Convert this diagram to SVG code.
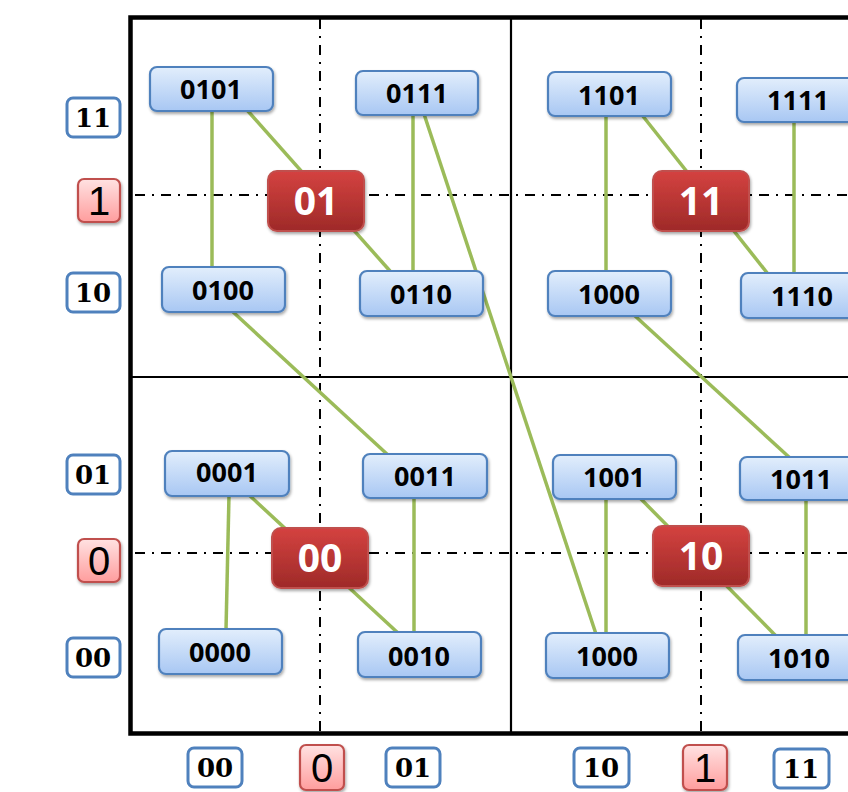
<svg xmlns="http://www.w3.org/2000/svg" width="848" height="792" viewBox="0 0 848 792">
<defs>
<linearGradient id="gBlue" x1="0" y1="0" x2="0" y2="1">
<stop offset="0" stop-color="#e2eefc"/>
<stop offset="1" stop-color="#a8c7f3"/>
</linearGradient>
<linearGradient id="gRed" x1="0" y1="0" x2="0" y2="1">
<stop offset="0" stop-color="#d44240"/>
<stop offset="1" stop-color="#9e2a28"/>
</linearGradient>
<linearGradient id="gPink" x1="0" y1="0" x2="0" y2="1">
<stop offset="0" stop-color="#ffe2e2"/>
<stop offset="1" stop-color="#ff9d9d"/>
</linearGradient>
<filter id="sh" x="-20%" y="-20%" width="150%" height="160%">
<feDropShadow dx="1" dy="2" stdDeviation="1.5" flood-color="#000" flood-opacity="0.35"/>
</filter>
<style>
.frame{stroke:#000;stroke-width:4.5;fill:none}
.grid{stroke:#000;stroke-width:2.2;fill:none}
.dd{stroke:#000;stroke-width:2;stroke-dasharray:10 7 2 7;fill:none}
.edge{stroke:#9bbb59;stroke-width:3.5;fill:none}
.bn rect{fill:url(#gBlue);stroke:#4f81bd;stroke-width:2.2;filter:url(#sh)}
.bn text{font-family:"Open Sans","Liberation Sans",sans-serif;font-weight:bold;font-size:27px;fill:#000;text-anchor:middle}
.rn rect{fill:url(#gRed);stroke:#c0504d;stroke-width:2;filter:url(#sh)}
.rn text{font-family:"Open Sans","Liberation Sans",sans-serif;font-weight:bold;font-size:39px;fill:#fff;text-anchor:middle}
.ax rect{fill:#fff;stroke:#4f81bd;stroke-width:3}
.ax text{font-family:"DejaVu Serif","Liberation Serif",serif;font-weight:bold;font-size:26px;fill:#000;text-anchor:middle}
.ar rect{fill:url(#gPink);stroke:#c0504d;stroke-width:2.2;filter:url(#sh)}
.ar text{font-family:"Liberation Sans","Open Sans",sans-serif;font-size:40px;fill:#000;text-anchor:middle}
</style>
</defs>
<rect width="848" height="792" fill="#fff"/>
<g id="grid">
<line class="grid" x1="511" y1="17" x2="511" y2="735"/>
<line class="grid" x1="130" y1="377" x2="848" y2="377"/>
<line class="dd" x1="320" y1="19" x2="320" y2="735"/>
<line class="dd" x1="701" y1="19" x2="701" y2="735"/>
<line class="dd" x1="135" y1="195" x2="848" y2="195"/>
<line class="dd" x1="135" y1="553" x2="848" y2="553"/>
<path class="frame" d="M848 17.5 H130.5 V733.5 H848"/>
</g>
<g id="connectors">
<line class="edge" x1="212" y1="110" x2="212" y2="268"/>
<line class="edge" x1="247" y1="110" x2="390" y2="271"/>
<line class="edge" x1="413" y1="114" x2="413" y2="272"/>
<line class="edge" x1="424" y1="114" x2="596" y2="634"/>
<line class="edge" x1="606" y1="115" x2="606" y2="272"/>
<line class="edge" x1="642" y1="115" x2="768" y2="274"/>
<line class="edge" x1="794" y1="121" x2="794" y2="274"/>
<line class="edge" x1="232" y1="311" x2="388" y2="455"/>
<line class="edge" x1="634" y1="315" x2="790" y2="458"/>
<line class="edge" x1="229" y1="495" x2="226" y2="630"/>
<line class="edge" x1="249" y1="495" x2="398" y2="633"/>
<line class="edge" x1="414" y1="497" x2="414" y2="633"/>
<line class="edge" x1="606" y1="498" x2="606" y2="634"/>
<line class="edge" x1="640" y1="498" x2="776" y2="636"/>
<line class="edge" x1="806" y1="499" x2="806" y2="636"/>
</g>
<g id="n0101" class="bn"><rect x="150" y="67" width="123" height="44" rx="7"/><text x="211" y="99">0101</text></g>
<g id="n0111" class="bn"><rect x="356" y="71" width="122" height="44" rx="7"/><text x="417" y="103">0111</text></g>
<g id="n1101" class="bn"><rect x="548" y="72" width="123" height="44" rx="7"/><text x="609" y="105">1101</text></g>
<g id="n1111" class="bn"><rect x="737" y="78" width="123" height="44" rx="7"/><text x="798" y="110">1111</text></g>
<g id="n0100" class="bn"><rect x="162" y="267" width="123" height="45" rx="7"/><text x="223" y="300">0100</text></g>
<g id="n0110" class="bn"><rect x="360" y="271" width="123" height="45" rx="7"/><text x="421" y="304">0110</text></g>
<g id="n1000a" class="bn"><rect x="548" y="271" width="123" height="45" rx="7"/><text x="609" y="304">1000</text></g>
<g id="n1110" class="bn"><rect x="741" y="273" width="123" height="45" rx="7"/><text x="802" y="306">1110</text></g>
<g id="n0001" class="bn"><rect x="165" y="451" width="124" height="45" rx="7"/><text x="227" y="482">0001</text></g>
<g id="n0011" class="bn"><rect x="363" y="454" width="124" height="44" rx="7"/><text x="425" y="486">0011</text></g>
<g id="n1001" class="bn"><rect x="553" y="455" width="123" height="44" rx="7"/><text x="614" y="487">1001</text></g>
<g id="n1011" class="bn"><rect x="740" y="457" width="123" height="43" rx="7"/><text x="801" y="489">1011</text></g>
<g id="n0000" class="bn"><rect x="159" y="629" width="123" height="45" rx="7"/><text x="220" y="662">0000</text></g>
<g id="n0010" class="bn"><rect x="358" y="632" width="123" height="45" rx="7"/><text x="419" y="666">0010</text></g>
<g id="n1000b" class="bn"><rect x="546" y="633" width="123" height="45" rx="7"/><text x="607" y="666">1000</text></g>
<g id="n1010" class="bn"><rect x="738" y="635" width="123" height="45" rx="7"/><text x="799" y="668">1010</text></g>
<g id="r01" class="rn"><rect x="268" y="171" width="96" height="60" rx="9"/><text x="316" y="215">01</text></g>
<g id="r11" class="rn"><rect x="653" y="171" width="96" height="60" rx="9"/><text x="701" y="215">11</text></g>
<g id="r00" class="rn"><rect x="272" y="528" width="96" height="60" rx="9"/><text x="320" y="572">00</text></g>
<g id="r10" class="rn"><rect x="653" y="526" width="96" height="60" rx="9"/><text x="701" y="570">10</text></g>
<g id="axL11" class="ax"><rect x="67" y="98" width="53" height="39" rx="6"/><text x="93" y="127">11</text></g>
<g id="axL1" class="ar"><rect x="78" y="179" width="42" height="43" rx="6"/><text x="99" y="215">1</text></g>
<g id="axL10" class="ax"><rect x="67" y="273" width="53" height="39" rx="6"/><text x="93" y="302">10</text></g>
<g id="axL01" class="ax"><rect x="67" y="455" width="53" height="39" rx="6"/><text x="93" y="484">01</text></g>
<g id="axL0" class="ar"><rect x="78" y="539" width="42" height="43" rx="6"/><text x="99" y="575">0</text></g>
<g id="axL00" class="ax"><rect x="67" y="638" width="53" height="39" rx="6"/><text x="93" y="667">00</text></g>
<g id="axB00" class="ax"><rect x="188" y="748" width="54" height="39" rx="6"/><text x="215" y="777">00</text></g>
<g id="axB0" class="ar"><rect x="300" y="745" width="44" height="45" rx="6"/><text x="322" y="782">0</text></g>
<g id="axB01" class="ax"><rect x="386" y="748" width="54" height="39" rx="6"/><text x="413" y="777">01</text></g>
<g id="axB10" class="ax"><rect x="574" y="748" width="55" height="39" rx="6"/><text x="601" y="777">10</text></g>
<g id="axB1" class="ar"><rect x="683" y="745" width="44" height="45" rx="6"/><text x="705" y="782">1</text></g>
<g id="axB11" class="ax"><rect x="774" y="749" width="55" height="39" rx="6"/><text x="801" y="778">11</text></g>
</svg>
